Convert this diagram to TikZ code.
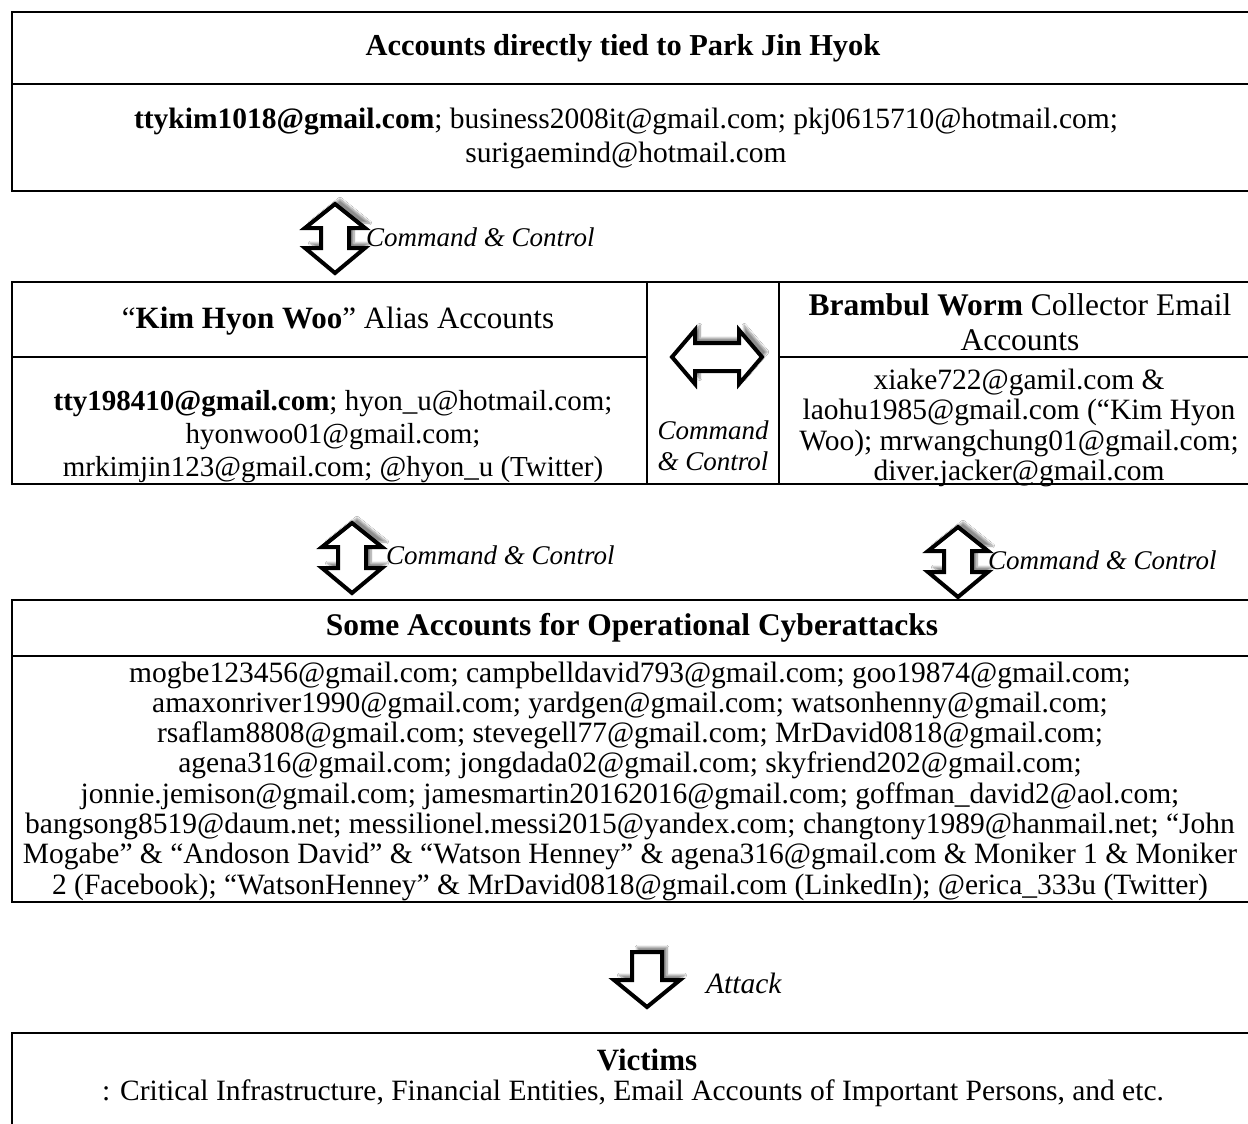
\documentclass[tikz,border=0pt]{standalone}
\usepackage{fontspec}
\setmainfont{Liberation Serif}
\usetikzlibrary{shadows.blur}
\begin{document}
\begin{tikzpicture}[x=1pt,y=-1pt,
  txt/.style={font=\fontsize{29.5}{34}\selectfont, inner sep=0pt, align=center},
  head/.style={font=\fontsize{31}{35}\selectfont, inner sep=0pt, align=center},
  tline/.style={line width=2.6pt},
  barrow/.style={draw=black, line width=4pt, fill=white, line join=miter,
    blur shadow={shadow xshift=5pt, shadow yshift=5pt, shadow blur steps=8, shadow opacity=45}},
  cclabel/.style={font=\itshape\fontsize{27}{31}\selectfont, inner sep=0pt, anchor=west}]
\useasboundingbox (0,0) rectangle (1248,1124);
\fill[white] (0,0) rectangle (1248,1124);

% ---------- top table
\draw[tline] (1262,12) -- (12,12) -- (12,191) -- (1262,191);
\draw[tline] (12,84) -- (1262,84);
\node[head, font=\fontsize{30.4}{35}\selectfont] (toptitle) at (623,48) {\textbf{Accounts directly tied to Park Jin Hyok}};
\node[txt] (topbody) at (626,138) {\textbf{ttykim1018@gmail.com}; business2008it@gmail.com; pkj0615710@hotmail.com;\\ surigaemind@hotmail.com};

% ---------- arrow 1 (up-down)
\draw[barrow] (335,204) -- (365,228) -- (349,228) -- (349,248) -- (365,248) -- (335,273)
  -- (305,248) -- (321,248) -- (321,228) -- (305,228) -- cycle;
\node[cclabel] (cc1) at (366,237) {Command \& Control};

% ---------- middle table
\draw[tline] (1262,282) -- (12,282) -- (12,484) -- (1262,484);
\draw[tline] (647,282) -- (647,484);
\draw[tline] (779,282) -- (779,484);
\draw[tline] (12,357) -- (647,357);
\draw[tline] (779,357) -- (1262,357);
\node[head] (kimhead) at (338,321) {``\textbf{Kim Hyon Woo}'' Alias Accounts};
\node[txt, font=\fontsize{29}{33}\selectfont] (kimbody) at (333,437) {\textbf{tty198410@gmail.com}; hyon\_u@hotmail.com;\\ hyonwoo01@gmail.com;\\ mrkimjin123@gmail.com; @hyon\_u (Twitter)};
\node[head, font=\fontsize{31.5}{35}\selectfont] (bramhead) at (1020,322) {\textbf{Brambul Worm} Collector Email\\ Accounts};
\node[txt, font=\fontsize{29.5}{30.5}\selectfont] (brambody) at (1019,428) {xiake722@gamil.com \&\\ laohu1985@gmail.com (``Kim Hyon\\ Woo); mrwangchung01@gmail.com;\\ diver.jacker@gmail.com};

% left-right arrow
\draw[barrow] (672,357) -- (695,330) -- (695,343) -- (739,343) -- (739,330) -- (762,357)
  -- (739,384) -- (739,371) -- (695,371) -- (695,384) -- cycle;
\node[txt, font=\itshape\fontsize{27}{31}\selectfont] (ccmid) at (713,446) {Command\\ \& Control};

% ---------- arrows 2 and 3
\draw[barrow] (352,523) -- (382,547) -- (366,547) -- (366,568) -- (382,568) -- (352,593)
  -- (322,568) -- (338,568) -- (338,547) -- (322,547) -- cycle;
\node[cclabel] (cc2) at (386,555) {Command \& Control};
\draw[barrow] (958,527) -- (988,551) -- (972,551) -- (972,572) -- (988,572) -- (958,597)
  -- (928,572) -- (944,572) -- (944,551) -- (928,551) -- cycle;
\node[cclabel] (cc3) at (988,560) {Command \& Control};

% ---------- operations table
\draw[tline] (1262,600) -- (12,600) -- (12,902) -- (1262,902);
\draw[tline] (12,656) -- (1262,656);
\node[head, font=\fontsize{31.5}{35}\selectfont] (opstitle) at (632,628) {\textbf{Some Accounts for Operational Cyberattacks}};
\node[txt, font=\fontsize{29.5}{30.3}\selectfont] (opsbody) at (630,781) {mogbe123456@gmail.com; campbelldavid793@gmail.com; goo19874@gmail.com;\\
amaxonriver1990@gmail.com; yardgen@gmail.com; watsonhenny@gmail.com;\\
rsaflam8808@gmail.com; stevegell77@gmail.com; MrDavid0818@gmail.com;\\
agena316@gmail.com; jongdada02@gmail.com; skyfriend202@gmail.com;\\
jonnie.jemison@gmail.com; jamesmartin20162016@gmail.com; goffman\_david2@aol.com;\\
bangsong8519@daum.net; messilionel.messi2015@yandex.com; changtony1989@hanmail.net; ``John\\
Mogabe'' \& ``Andoson David'' \& ``Watson Henney'' \& agena316@gmail.com \& Moniker 1 \& Moniker\\
2 (Facebook); ``WatsonHenney'' \& MrDavid0818@gmail.com (LinkedIn); @erica\_333u (Twitter)};

% ---------- attack arrow
\draw[barrow] (632,952) -- (662,952) -- (662,980) -- (680,980) -- (647,1007) -- (614,980)
  -- (632,980) -- cycle;
\node[cclabel, font=\itshape\fontsize{29.5}{34}\selectfont] (attack) at (706,983) {Attack};

% ---------- victims
\draw[tline] (1262,1033) -- (12,1033) -- (12,1140);
\node[head] (victims) at (647,1060) {\textbf{Victims}};
\node[txt] (victimsbody) at (633,1093) {: Critical Infrastructure, Financial Entities, Email Accounts of Important Persons, and etc.};
\end{tikzpicture}
\end{document}
